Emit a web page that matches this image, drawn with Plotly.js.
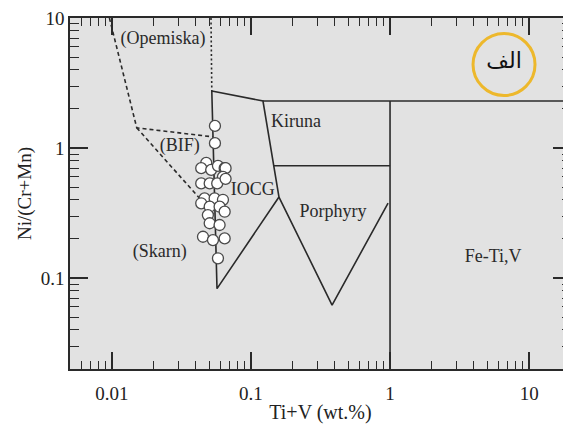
<!DOCTYPE html>
<html>
<head>
<meta charset="utf-8">
<script src="https://cdn.plot.ly/plotly-3.0.1.min.js"></script>
<style>
  html, body { margin: 0; padding: 0; overflow: hidden; background: #ffffff; }
  #chart { width: 572px; height: 424px; }
</style>
</head>
<body>
<div id="chart"></div>
<script>
// ---- Tick values ----
const xMajorTicks = [0.01, 0.1, 1, 10];
const xMajorLabels = ['0.01', '0.1', '1', '10'];
const xMinorTicks = [0.006, 0.007, 0.008, 0.009, 0.02, 0.03, 0.04, 0.05, 0.06, 0.07, 0.08, 0.09,
                     0.2, 0.3, 0.4, 0.5, 0.6, 0.7, 0.8, 0.9, 2, 3, 4, 5, 6, 7, 8, 9];
const yMajorTicks = [0.1, 1, 10];
const yMajorLabels = ['0.1', '1', '10'];
const yMinorTicks = [0.03, 0.04, 0.05, 0.06, 0.07, 0.08, 0.09,
                     0.2, 0.3, 0.4, 0.5, 0.6, 0.7, 0.8, 0.9, 2, 3, 4, 5, 6, 7, 8, 9];

// ---- Field boundaries (solid) ----
const iocgX = [0.0523, 0.122, 0.159, 0.057, 0.0523];
const iocgY = [2.75, 2.3, 0.42, 0.083, 2.75];
const kirunaTopX = [0.122, 20];
const kirunaTopY = [2.3, 2.3];
const feTiVLeftX = [1, 1];
const feTiVLeftY = [2.3, 0.02];
const kirunaBottomX = [0.146, 1];
const kirunaBottomY = [0.73, 0.73];
const porphyryX = [0.159, 0.383, 0.968];
const porphyryY = [0.42, 0.062, 0.377];

// ---- Field boundaries (dashed / dotted) ----
const opemiskaX = [0.0516, 0.0523];
const opemiskaY = [10, 2.75];
const bifOuterX = [0.0096, 0.0151, 0.053];
const bifOuterY = [10, 1.43, 1.22];
const skarnX = [0.0151, 0.054];
const skarnY = [1.43, 0.31];

// ---- Samples ----
const sampleX = [0.0551, 0.0551, 0.0477, 0.0439, 0.0518, 0.0579, 0.0647, 0.0657, 0.0629,
                 0.0439, 0.0505, 0.0572, 0.0657, 0.0464, 0.0548, 0.0629, 0.0439, 0.0505,
                 0.0595, 0.0647, 0.0490, 0.0505, 0.0595, 0.0452, 0.0533, 0.0647, 0.0579];
const sampleY = [1.48, 1.09, 0.77, 0.70, 0.68, 0.73, 0.70, 0.70, 0.60,
                 0.535, 0.535, 0.535, 0.58, 0.41, 0.41, 0.40, 0.376, 0.354,
                 0.354, 0.324, 0.305, 0.264, 0.256, 0.208, 0.196, 0.202, 0.142];

// ---- Field labels ----
const labelText = ['(Opemiska)', '(BIF)', 'IOCG', 'Kiruna', 'Porphyry', '(Skarn)', 'Fe-Ti,V'];
const labelX = [0.0233, 0.0308, 0.103, 0.211, 0.389, 0.0221, 5.51];
const labelY = [6.78, 1.02, 0.475, 1.585, 0.322, 0.158, 0.145];

// ---- Panel tag ----
const tagText = ['الف'];
const tagX = [6.6];
const tagY = [4.55];
const tagRingY = [4.39];

const lineColor = '#2a2a2a';
const serif = 'Liberation Serif, Times New Roman, serif';

function solid(x, y) {
  return { x: x, y: y, mode: 'lines', type: 'scatter',
           line: { color: lineColor, width: 1.6 }, showlegend: false };
}
function dashed(x, y, dash) {
  return { x: x, y: y, mode: 'lines', type: 'scatter',
           line: { color: lineColor, width: 1.6, dash: dash }, showlegend: false };
}

const traces = [
  solid(iocgX, iocgY),
  solid(kirunaTopX, kirunaTopY),
  solid(feTiVLeftX, feTiVLeftY),
  solid(kirunaBottomX, kirunaBottomY),
  solid(porphyryX, porphyryY),
  dashed(opemiskaX, opemiskaY, '2px,2.5px'),
  dashed(bifOuterX, bifOuterY, '4px,3px'),
  dashed(skarnX, skarnY, '4px,3px'),
  { x: sampleX, y: sampleY, mode: 'markers', type: 'scatter', showlegend: false,
    marker: { size: 11, color: '#ffffff', line: { color: '#4a4a4a', width: 1.3 } } },
  { x: labelX, y: labelY, text: labelText, mode: 'text', type: 'scatter', showlegend: false,
    textfont: { family: serif, size: 18, color: '#2a2a2a' } },
  { x: tagX, y: tagRingY, mode: 'markers', type: 'scatter', showlegend: false,
    marker: { symbol: 'circle-open', size: 62, color: '#edb82c', line: { width: 3, color: '#edb82c' } } },
  { x: tagX, y: tagY, text: tagText, mode: 'text', type: 'scatter', showlegend: false,
    textfont: { family: 'DejaVu Sans', size: 22, color: '#111' } }
];

const xRange = [Math.log10(0.005), Math.log10(20)];
const yRange = [Math.log10(0.02), Math.log10(10)];

const layout = {
  width: 572,
  height: 424,
  margin: { l: 70, r: 1, t: 18, b: 55 },
  paper_bgcolor: '#ffffff',
  plot_bgcolor: '#e2e2e2',
  showlegend: false,
  xaxis: {
    type: 'log', range: xRange, tickmode: 'array', tickvals: xMajorTicks, ticktext: xMajorLabels,
    ticks: 'inside', ticklen: 17, tickwidth: 1.5, tickcolor: lineColor,
    showline: true, linecolor: lineColor, linewidth: 1.6, mirror: 'allticks',
    showgrid: false, zeroline: false, ticklabelstandoff: 6,
    tickfont: { family: serif, size: 19, color: '#222' },
    minor: { tickmode: 'array', tickvals: xMinorTicks, ticks: 'inside', ticklen: 8, tickwidth: 1.2,
             tickcolor: lineColor, showgrid: false },
    title: { text: 'Ti+V (wt.%)', font: { family: serif, size: 20, color: '#222' }, standoff: 16 }
  },
  yaxis: {
    type: 'log', range: yRange, tickmode: 'array', tickvals: yMajorTicks, ticktext: yMajorLabels,
    ticks: 'inside', ticklen: 18, tickwidth: 1.5, tickcolor: lineColor,
    showline: true, linecolor: lineColor, linewidth: 1.6, mirror: 'allticks',
    showgrid: false, zeroline: false,
    tickfont: { family: serif, size: 19, color: '#222' },
    minor: { tickmode: 'array', tickvals: yMinorTicks, ticks: 'inside', ticklen: 9, tickwidth: 1.2,
             tickcolor: lineColor, showgrid: false },
    title: { text: 'Ni/(Cr+Mn)', font: { family: serif, size: 19, color: '#222' }, standoff: 4 }
  }
};

Plotly.newPlot('chart', traces, layout, { displayModeBar: false }).then(function (gd) {
  return Plotly.relayout(gd, { 'xaxis.ticklen': 17, 'yaxis.ticklen': 18 });
});
</script>
</body>
</html>
